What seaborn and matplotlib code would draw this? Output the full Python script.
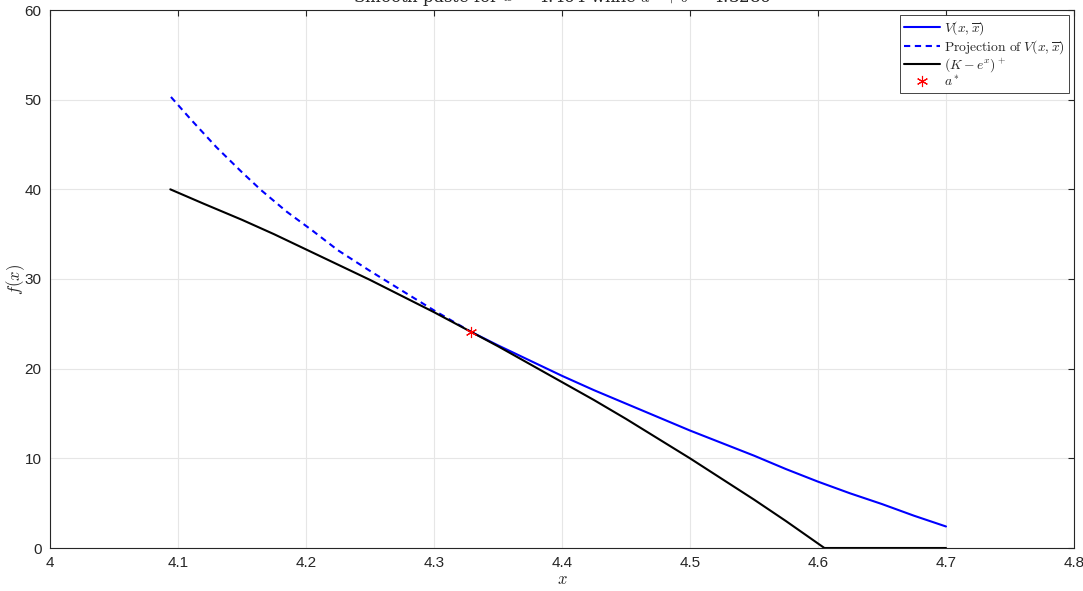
import numpy as np
import pandas as pd
import matplotlib
matplotlib.use("Agg")
import matplotlib.pyplot as plt
import seaborn as sns

# valores
x_payoff = [4.094, 4.12, 4.15, 4.175, 4.2, 4.225, 4.25, 4.275, 4.3, 4.329, 4.35, 4.375,
            4.4, 4.425, 4.45, 4.475, 4.5, 4.525, 4.55, 4.575, 4.605, 4.65, 4.7]
y_payoff = [40.0, 38.4, 36.6, 35.0, 33.3, 31.6, 29.9, 28.1, 26.3, 24.1, 22.5, 20.5,
            18.5, 16.5, 14.4, 12.2, 10.0, 7.7, 5.4, 3.0, 0.0, 0.0, 0.0]

x_valor = [4.329, 4.35, 4.375, 4.4, 4.425, 4.45, 4.475, 4.5, 4.525, 4.55, 4.575,
           4.6, 4.625, 4.65, 4.675, 4.7]
y_valor = [24.1, 22.6, 20.9, 19.2, 17.6, 16.1, 14.6, 13.1, 11.7, 10.3, 8.8,
           7.4, 6.1, 4.9, 3.6, 2.4]

x_proj = [4.0945, 4.11, 4.13, 4.15, 4.165, 4.185, 4.205, 4.225, 4.25, 4.275, 4.3, 4.329]
y_proj = [50.3, 47.8, 44.7, 41.9, 39.9, 37.5, 35.4, 33.2, 30.9, 28.7, 26.5, 24.1]

a_star_x = [4.329]
a_star_y = [24.1]

x_ticks = [4, 4.1, 4.2, 4.3, 4.4, 4.5, 4.6, 4.7, 4.8]
x_tick_labels = ["4", "4.1", "4.2", "4.3", "4.4", "4.5", "4.6", "4.7", "4.8"]
y_ticks = [0, 10, 20, 30, 40, 50, 60]

titulo = r"Smooth paste for $\overline{x}$ = 4.464 while $a^*+\delta$ = 4.3286"

# estilo
sns.set_style("white")
plt.rcParams["font.family"] = ["Liberation Sans", "DejaVu Sans"]
plt.rcParams["mathtext.fontset"] = "cm"

fig = plt.figure(figsize=(10.83, 5.91), dpi=100)
ax = fig.add_axes([50 / 1083, 43 / 591, 1024 / 1083, 538 / 591])

df_valor = pd.DataFrame({"x": x_valor, "y": y_valor})
df_proj = pd.DataFrame({"x": x_proj, "y": y_proj})
df_payoff = pd.DataFrame({"x": x_payoff, "y": y_payoff})

sns.lineplot(data=df_valor, x="x", y="y", ax=ax, color="#0000ff", lw=1.5,
             label=r"$V(x,\overline{x})$", sort=False)
sns.lineplot(data=df_proj, x="x", y="y", ax=ax, color="#0000ff", lw=1.5,
             linestyle=(0, (3, 2.2)), label=r"$\mathrm{Projection\ of\ }V(x,\overline{x})$", sort=False)
sns.lineplot(data=df_payoff, x="x", y="y", ax=ax, color="black", lw=1.5,
             label=r"$(K-e^x)^+$", sort=False)
ax.plot(a_star_x, a_star_y, linestyle="none", marker=(6, 2, 0), color="red",
        markersize=8, markeredgewidth=0.8, label=r"$a^*$")

ax.set_xlim(4, 4.8)
ax.set_ylim(0, 60)
ax.set_xticks(x_ticks)
ax.set_xticklabels(x_tick_labels)
ax.set_yticks(y_ticks)
ax.tick_params(direction="in", length=4, labelsize=11, colors="#262626", pad=6,
               top=True, right=True)
ax.grid(True, color="#e6e6e6", lw=0.8)
for s in ax.spines.values():
    s.set_color("#262626")
    s.set_linewidth(0.8)

ax.set_xlabel(r"$x$", fontsize=12, labelpad=1)
ax.set_ylabel(r"$f(x)$", fontsize=12, labelpad=-1.5)

leg = ax.legend(loc="upper right", fontsize=9.8, frameon=True, fancybox=False,
                framealpha=1, edgecolor="#262626", borderpad=0.3, labelspacing=0.05,
                handlelength=2.6, handletextpad=0.3, borderaxespad=0.4)
leg.get_frame().set_linewidth(0.6)

fig.text(562 / 1083, 1 + 2 / 591, titulo, ha="center", va="center", fontsize=12,
         family="DejaVu Serif")

fig.savefig("out.png", dpi=100)
